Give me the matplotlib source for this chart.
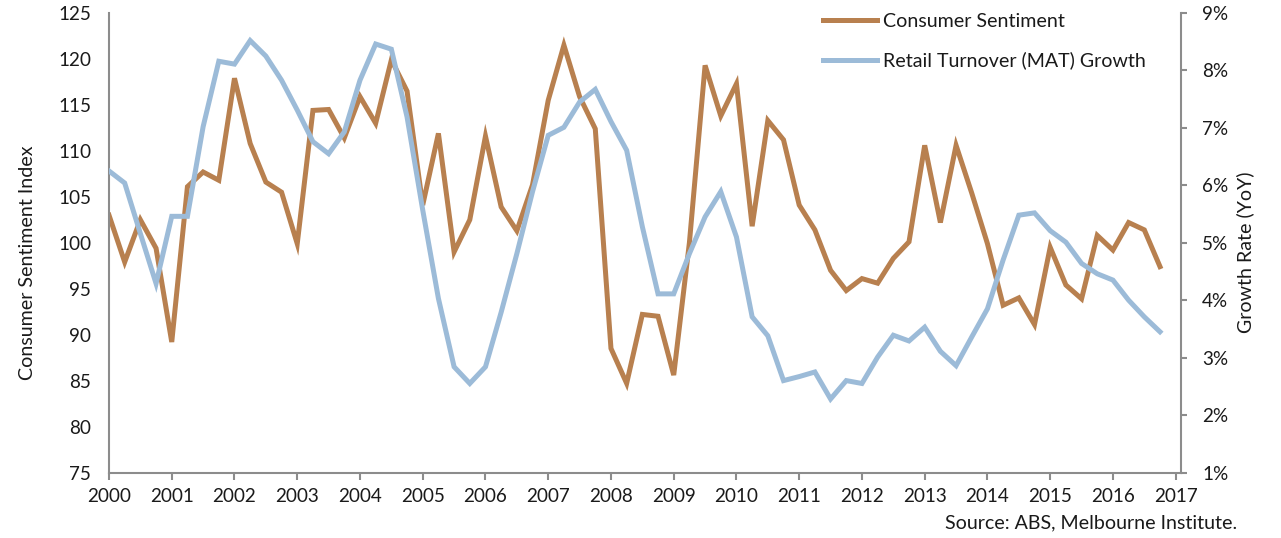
import matplotlib
matplotlib.use("Agg")
import matplotlib.pyplot as plt
from matplotlib.ticker import FuncFormatter

plt.rcParams['font.family'] = ['Lato', 'DejaVu Sans']

start_year = 2000
quarters_per_year = 4

sentiment = [103.0, 97.9, 102.5, 99.4, 89.2, 106.1, 107.7, 106.8, 117.9, 110.8,
             106.6, 105.5, 99.9, 114.4, 114.5, 111.4, 115.9, 113.0, 119.9, 116.5,
             104.1, 111.9, 99.0, 102.5, 111.6, 103.9, 101.3, 106.3, 115.5, 121.5,
             115.9, 112.4, 88.5, 84.7, 92.2, 92.0, 85.6, 100.0, 119.3, 113.8,
             117.3, 101.8, 113.3, 111.2, 104.1, 101.4, 97.0, 94.8, 96.1, 95.6,
             98.3, 100.1, 110.6, 102.2, 110.6, 105.4, 99.9, 93.2, 94.0, 91.1,
             99.5, 95.4, 93.9, 100.8, 99.2, 102.2, 101.4, 97.4]

retail_growth = [6.25, 6.04, 5.16, 4.29, 5.46, 5.46, 7.02, 8.16, 8.11, 8.52,
                 8.25, 7.83, 7.31, 6.76, 6.55, 6.93, 7.83, 8.46, 8.37, 7.19,
                 5.57, 4.03, 2.84, 2.55, 2.84, 3.79, 4.81, 5.89, 6.87, 7.01,
                 7.45, 7.67, 7.11, 6.61, 5.28, 4.11, 4.11, 4.81, 5.45, 5.89,
                 5.10, 3.71, 3.38, 2.60, 2.67, 2.75, 2.28, 2.60, 2.55, 3.01,
                 3.39, 3.29, 3.53, 3.11, 2.86, 3.36, 3.85, 4.70, 5.48, 5.52,
                 5.21, 5.01, 4.64, 4.46, 4.35, 4.00, 3.71, 3.45]

year_ticks = list(range(2000, 2018))
left_ticks = list(range(75, 126, 5))
right_ticks = list(range(1, 10))

x = [start_year + i / quarters_per_year for i in range(len(sentiment))]

brown = '#B8804F'
blue = '#9CBBD8'
gray = '#8C8C8C'
txt = '#1A1A1A'
fs_tick = 13.6
fs = 14.1

fig = plt.figure(figsize=(12.81, 5.38), dpi=100)
ax = fig.add_axes([109/1281, 1-472.5/538, (1180.7-109)/1281, (472.5-13)/538])
ax2 = ax.twinx()

l1, = ax.plot(x, sentiment, color=brown, lw=3.6, solid_joinstyle='miter', label='Consumer Sentiment')
l2, = ax2.plot(x, retail_growth, color=blue, lw=3.6, solid_joinstyle='miter', label='Retail Turnover (MAT) Growth')

ax.set_xlim(2000, 2017.08)
ax.set_ylim(75, 125)
ax2.set_ylim(1, 9)
ax.set_xticks(year_ticks)
ax.set_yticks(left_ticks)
ax2.set_yticks(right_ticks)
ax2.yaxis.set_major_formatter(FuncFormatter(lambda v, p: f'{int(v)}%'))

for a in (ax, ax2):
    a.spines['top'].set_visible(False)
    for s in ('left', 'right', 'bottom'):
        a.spines[s].set_color(gray)
        a.spines[s].set_linewidth(1.5)
ax.spines['right'].set_visible(False)
ax2.spines['left'].set_visible(False)
ax2.spines['bottom'].set_visible(False)

ax.tick_params(axis='x', direction='out', length=5, width=1.5, color=gray,
               labelsize=fs_tick, labelcolor=txt, pad=6)
ax.tick_params(axis='y', length=0, labelsize=fs_tick, labelcolor=txt, pad=13)
ax2.tick_params(axis='y', direction='out', length=4.5, width=1.5, color=gray,
                labelsize=fs_tick, labelcolor=txt, pad=11)

fig.text(28/1281, 1-263/538, 'Consumer Sentiment Index', rotation=90,
         ha='center', va='center', fontsize=fs, color=txt)
fig.text(1245/1281, 1-252/538, 'Growth Rate (YoY)', rotation=90,
         ha='center', va='center', fontsize=fs, color=txt)
fig.text(1237/1281, 1-523/538, 'Source: ABS, Melbourne Institute.',
         ha='right', va='center', fontsize=fs, color=txt)

leg = ax2.legend(handles=[l1, l2], loc='upper left', bbox_to_anchor=(823/1281, 1-13/538),
                 bbox_transform=fig.transFigure, frameon=False, fontsize=fs,
                 handlelength=2.76, handletextpad=0.28, labelspacing=1.1,
                 borderaxespad=0, borderpad=0)
for t in leg.get_texts():
    t.set_color(txt)

fig.savefig('out.png', dpi=100)
